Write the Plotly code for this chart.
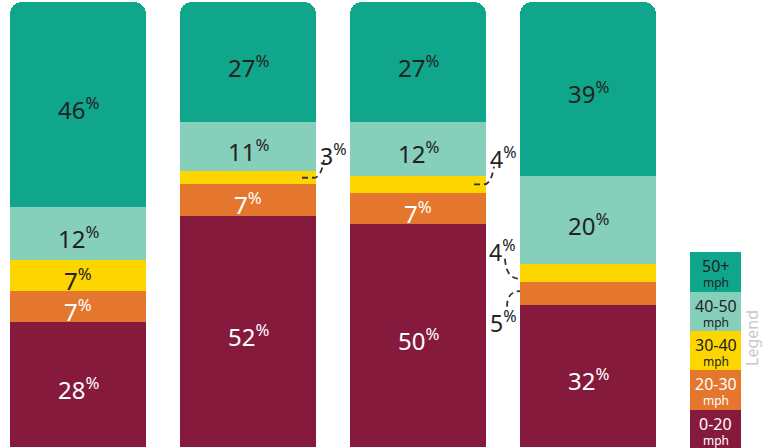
import plotly.graph_objects as go

# speed bands, bottom to top
bands = ["0-20", "20-30", "30-40", "40-50", "50+"]
colors = ["#861a3d", "#e5762d", "#fdd600", "#86cfbb", "#10a68b"]
text_colors = ["white", "white", "#222222", "#222222", "#222222"]

groups = ["A", "B", "C", "D"]
values = {
    "0-20": [28, 52, 50, 32],
    "20-30": [7, 7, 7, 5],
    "30-40": [7, 3, 4, 4],
    "40-50": [12, 11, 12, 20],
    "50+": [46, 27, 27, 39],
}

# bar centres in pixel units (x axis spans the 763px page)
x_pos = [78, 248, 418, 588]
bar_w = 136

fig = go.Figure()
for band, col in zip(bands, colors):
    fig.add_trace(go.Bar(
        x=x_pos, y=values[band], width=bar_w,
        marker=dict(color=col, line=dict(width=0)),
        name=band, hoverinfo="skip",
    ))

font = "Noto Sans"

# labels inside segments, small ones outside with dashed leaders
outside = {(1, "30-40"), (2, "30-40"), (3, "30-40"), (3, "20-30")}
for i, x in enumerate(x_pos):
    base = 0
    for band, tcol in zip(bands, text_colors):
        v = values[band][i]
        mid = base + v / 2
        if (i, band) not in outside:
            fig.add_annotation(
                x=x, y=mid, xref="x", yref="y", showarrow=False, yshift=-4,
                text=f"{v}<sup>%</sup>",
                font=dict(family=font, size=24, color=tcol),
            )
        base += v

def cum(i, band):
    idx = bands.index(band)
    return sum(values[b][i] for b in bands[:idx])

lead = dict(type="path", xref="x", yref="y",
            line=dict(color="#333333", width=1.8, dash="6px,4px"))
out_font = dict(family=font, size=23, color="#222222")

# bar B, 3%
y0 = cum(1, "30-40") + values["30-40"][1] / 2
fig.add_shape(path=f"M 302,{y0} L 314,{y0} Q 321,{y0} 324,{y0 + 4}", **lead)
fig.add_annotation(x=333, y=y0 + 5, xref="x", yref="y", showarrow=False,
                   text=f"{values['30-40'][1]}<sup>%</sup>", font=out_font)
# bar C, 4%
y0 = cum(2, "30-40") + values["30-40"][2] / 2
fig.add_shape(path=f"M 474,{y0} L 484,{y0} Q 491,{y0} 494,{y0 + 4}", **lead)
fig.add_annotation(x=503, y=y0 + 6, xref="x", yref="y", showarrow=False,
                   text=f"{values['30-40'][2]}<sup>%</sup>", font=out_font)
# bar D, 4% and 5%
y0 = cum(3, "30-40") + 0.8
fig.add_shape(path=f"M 505,{y0 + 4.5} Q 506,{y0} 520,{y0}", **lead)
fig.add_annotation(x=502, y=y0 + 6.3, xref="x", yref="y", showarrow=False,
                   text=f"{values['30-40'][3]}<sup>%</sup>", font=out_font)
y1 = cum(3, "20-30") + values["20-30"][3] / 2 + 0.5
fig.add_shape(path=f"M 507,{y1 - 3.5} Q 507,{y1} 520,{y1}", **lead)
fig.add_annotation(x=503, y=y1 - 7, xref="x", yref="y", showarrow=False,
                   text=f"{values['20-30'][3]}<sup>%</sup>", font=out_font)

# legend boxes (paper coords), top to bottom
edges = [252, 292, 331, 370, 410, 452]
for k, band in enumerate(reversed(bands)):
    j = bands.index(band)
    top, bot = edges[k], edges[k + 1]
    fig.add_shape(type="rect", xref="paper", yref="paper",
                  x0=690 / 763, x1=741 / 763,
                  y0=1 - bot / 448, y1=1 - top / 448,
                  fillcolor=colors[j], line=dict(width=0), layer="below")
    fig.add_annotation(
        x=715.5 / 763, y=1 - (top + 14) / 448, xref="paper", yref="paper",
        xanchor="center", yanchor="middle", borderpad=0,
        showarrow=False, text=band,
        font=dict(family=font, size=16, color=text_colors[j]),
    )
    fig.add_annotation(
        x=715.5 / 763, y=1 - (top + 30) / 448, xref="paper", yref="paper",
        xanchor="center", yanchor="middle", borderpad=0,
        showarrow=False, text="mph",
        font=dict(family=font, size=12, color=text_colors[j]),
    )
fig.add_annotation(x=752 / 763, y=1 - 338 / 448, xref="paper", yref="paper",
                   xanchor="center", yanchor="middle", borderpad=0,
                   showarrow=False, textangle=-90, text="Legend",
                   font=dict(family=font, size=16, color="#c9c9c9"))

fig.update_layout(
    width=763, height=448,
    margin=dict(l=0, r=0, t=0, b=0),
    barmode="stack", barcornerradius=12,
    showlegend=False,
    plot_bgcolor="white", paper_bgcolor="white",
    xaxis=dict(range=[0, 763], visible=False),
    yaxis=dict(range=[-0.25, 100.45], visible=False),
)

fig.write_html("out.html", config={"displayModeBar": False},
               post_script="document.body.style.margin='0';")
